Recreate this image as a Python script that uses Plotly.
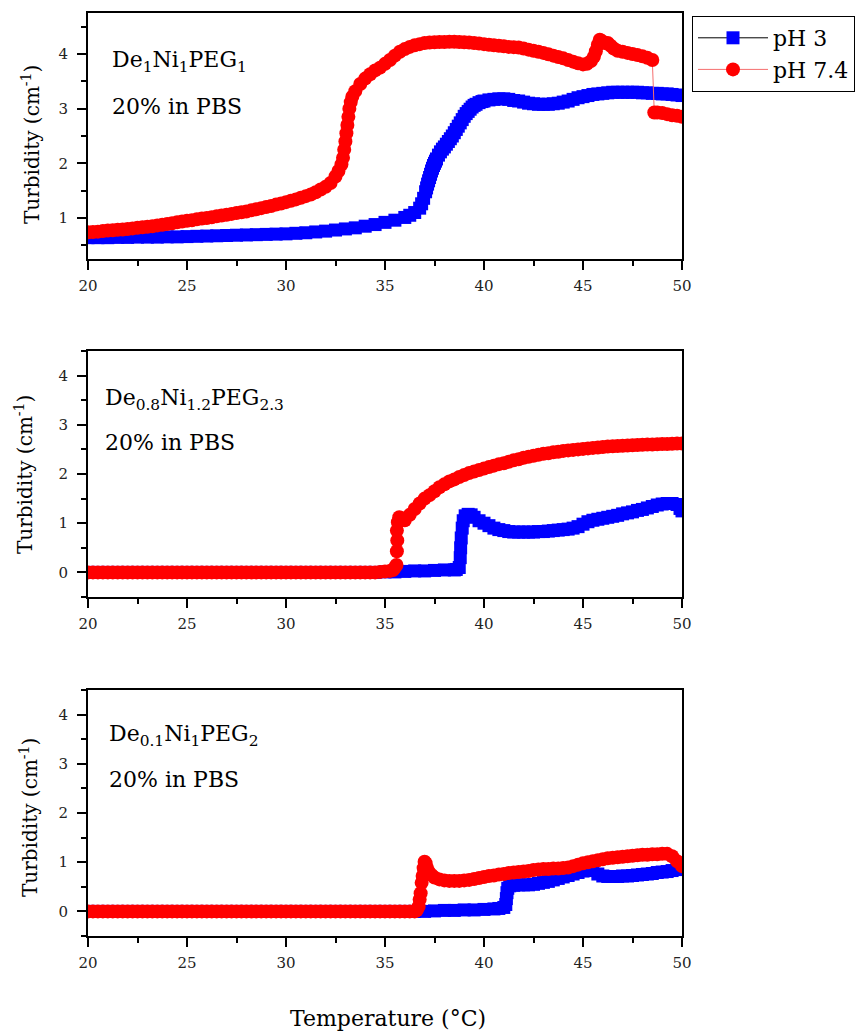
import plotly.graph_objects as go

# ---------------- data ----------------
# Panel 1: De1Ni1PEG1
P1_T_PH3 = [
    20.0, 20.5, 21.0, 21.5, 22.0, 22.5, 23.0, 23.5, 24.0, 24.5,
    25.0, 25.5, 26.0, 26.5, 27.0, 27.5, 28.0, 28.5, 29.0, 29.5,
    30.0, 30.5, 31.0, 31.5, 32.0, 32.5, 33.0, 33.5, 34.0, 34.5,
    35.0, 35.5, 36.0, 36.25, 36.5, 36.75, 36.85, 36.95, 37.05, 37.1,
    37.15, 37.2, 37.25, 37.3, 37.35, 37.4, 37.45, 37.5, 37.55, 37.6,
    37.7, 37.8, 37.9, 38.0, 38.1, 38.2, 38.3, 38.4, 38.5, 38.6,
    38.7, 38.8, 38.9, 39.0, 39.1, 39.2, 39.3, 39.4, 39.5, 39.6,
    39.75, 39.9, 40.0, 40.25, 40.5, 40.75, 41.0, 41.25, 41.5, 41.75,
    42.0, 42.25, 42.5, 42.75, 43.0, 43.25, 43.5, 43.75, 44.0, 44.25,
    44.5, 44.75, 45.0, 45.25, 45.5, 45.75, 46.0, 46.25, 46.5, 46.75,
    47.0, 47.25, 47.5, 47.75, 48.0, 48.25, 48.5, 48.75, 49.0, 49.25,
    49.5, 49.75, 50.0]
P1_Y_PH3 = [
    0.64, 0.64, 0.64, 0.645, 0.645, 0.65, 0.65, 0.65, 0.655, 0.655,
    0.66, 0.665, 0.67, 0.675, 0.68, 0.685, 0.69, 0.695, 0.70, 0.705,
    0.71, 0.72, 0.73, 0.745, 0.76, 0.78, 0.80, 0.82, 0.85, 0.88,
    0.92, 0.96, 1.01, 1.05, 1.1, 1.18, 1.26, 1.36, 1.48, 1.55,
    1.62, 1.68, 1.74, 1.8, 1.86, 1.91, 1.96, 2.0, 2.04, 2.08,
    2.15, 2.21, 2.26, 2.3, 2.35, 2.4, 2.45, 2.5, 2.56, 2.62,
    2.68, 2.74, 2.8, 2.86, 2.91, 2.95, 2.99, 3.03, 3.06, 3.08,
    3.11, 3.13, 3.14, 3.16, 3.17, 3.18, 3.18, 3.17, 3.15, 3.14,
    3.12, 3.1, 3.09, 3.08, 3.08, 3.08, 3.09, 3.1, 3.12, 3.14,
    3.17, 3.2, 3.22, 3.24, 3.26, 3.27, 3.28, 3.29, 3.3, 3.3,
    3.3, 3.3, 3.3, 3.3, 3.29, 3.29, 3.28, 3.28, 3.27, 3.27,
    3.26, 3.25, 3.24]

P1_T_PH74 = [
    20.0, 20.25, 20.5, 20.75, 21.0, 21.25, 21.5, 21.75, 22.0, 22.25,
    22.5, 22.75, 23.0, 23.25, 23.5, 23.75, 24.0, 24.25, 24.5, 24.75,
    25.0, 25.25, 25.5, 25.75, 26.0, 26.25, 26.5, 26.75, 27.0, 27.25,
    27.5, 27.75, 28.0, 28.25, 28.5, 28.75, 29.0, 29.25, 29.5, 29.75,
    30.0, 30.25, 30.5, 30.75, 31.0, 31.25, 31.5, 31.75, 32.0, 32.25,
    32.5, 32.65, 32.8, 32.88, 32.94, 33.0, 33.05, 33.1, 33.15, 33.2,
    33.27, 33.35, 33.5, 33.75, 34.0, 34.25, 34.5, 34.75, 35.0, 35.25,
    35.5, 35.75, 36.0, 36.25, 36.5, 36.75, 37.0, 37.25, 37.5, 37.75,
    38.0, 38.25, 38.5, 38.75, 39.0, 39.25, 39.5, 39.75, 40.0, 40.25,
    40.5, 40.75, 41.0, 41.25, 41.5, 41.75, 42.0, 42.25, 42.5, 42.75,
    43.0, 43.25, 43.5, 43.75, 44.0, 44.25, 44.5, 44.75, 45.0, 45.2,
    45.4, 45.55, 45.65, 45.75, 45.85, 45.95, 46.1, 46.25, 46.4, 46.55,
    46.75, 47.0, 47.25, 47.5, 47.75, 48.0, 48.25, 48.5, 48.6, 48.75,
    49.0, 49.25, 49.5, 49.75, 50.0]
P1_Y_PH74 = [
    0.74, 0.745, 0.75, 0.76, 0.77, 0.775, 0.785, 0.79, 0.80, 0.81,
    0.82, 0.83, 0.84, 0.85, 0.865, 0.875, 0.89, 0.905, 0.92, 0.935,
    0.95, 0.96, 0.975, 0.99, 1.0, 1.015, 1.03, 1.045, 1.06, 1.075,
    1.09, 1.105, 1.12, 1.14, 1.16, 1.18, 1.2, 1.22, 1.245, 1.265,
    1.29, 1.315, 1.34, 1.37, 1.40, 1.43, 1.47, 1.52, 1.57, 1.64,
    1.76, 1.86, 1.98, 2.1, 2.25, 2.4, 2.55, 2.7, 2.85, 3.0,
    3.12, 3.22, 3.32, 3.45, 3.55, 3.63, 3.7, 3.75, 3.82, 3.89,
    3.97, 4.04, 4.09, 4.13, 4.16, 4.18, 4.2, 4.21, 4.215, 4.22,
    4.22, 4.225, 4.225, 4.22, 4.215, 4.21, 4.2, 4.19, 4.18, 4.17,
    4.16, 4.15, 4.14, 4.13, 4.125, 4.12, 4.1, 4.08, 4.06, 4.04,
    4.02, 3.995, 3.97, 3.945, 3.92, 3.89, 3.86, 3.83, 3.81, 3.82,
    3.87, 3.95, 4.05, 4.17, 4.26, 4.24, 4.2, 4.2, 4.15, 4.1,
    4.06, 4.04, 4.02, 4.0, 3.98, 3.96, 3.93, 3.89, 2.93, 2.93,
    2.92, 2.9, 2.88, 2.87, 2.85]

# Panel 2: De0.8Ni1.2PEG2.3
P2_T_PH3 = [
    20.0, 20.5, 21.0, 21.5, 22.0, 22.5, 23.0, 23.5, 24.0, 24.5,
    25.0, 25.5, 26.0, 26.5, 27.0, 27.5, 28.0, 28.5, 29.0, 29.5,
    30.0, 30.5, 31.0, 31.5, 32.0, 32.5, 33.0, 33.5, 34.0, 34.5,
    35.0, 35.5, 36.0, 36.5, 37.0, 37.5, 38.0, 38.5, 38.6, 38.75,
    38.8, 38.82, 38.85, 38.9, 38.95, 39.05, 39.2, 39.35, 39.5, 39.75,
    40.0, 40.25, 40.5, 40.75, 41.0, 41.25, 41.5, 41.75, 42.0, 42.25,
    42.5, 42.75, 43.0, 43.25, 43.5, 43.75, 44.0, 44.25, 44.5, 44.75,
    45.0, 45.25, 45.5, 45.75, 46.0, 46.25, 46.5, 46.75, 47.0, 47.25,
    47.5, 47.75, 48.0, 48.25, 48.5, 48.75, 49.0, 49.25, 49.5, 49.75,
    49.9, 50.0]
P2_Y_PH3 = [
    0.0, 0.0, 0.0, 0.0, 0.0, 0.0, 0.0, 0.0, 0.0, 0.0,
    0.0, 0.0, 0.0, 0.0, 0.0, 0.0, 0.0, 0.0, 0.0, 0.0,
    0.0, 0.0, 0.0, 0.0, 0.0, 0.0, 0.0, 0.0, 0.0, 0.0,
    0.01, 0.01, 0.02, 0.03, 0.03, 0.04, 0.05, 0.05, 0.06, 0.1,
    0.3, 0.5, 0.7, 0.9, 1.05, 1.15, 1.18, 1.17, 1.12, 1.05,
    1.0, 0.95, 0.9, 0.87, 0.85, 0.83, 0.82, 0.82, 0.82, 0.82,
    0.82, 0.83, 0.83, 0.84, 0.85, 0.86, 0.87, 0.88, 0.9, 0.93,
    0.98, 1.03, 1.06, 1.08, 1.1, 1.12, 1.14, 1.16, 1.19, 1.21,
    1.23, 1.26, 1.28, 1.31, 1.34, 1.37, 1.39, 1.4, 1.4, 1.38,
    1.3, 1.25]

P2_T_PH74 = [
    20.0, 20.25, 20.5, 20.75, 21.0, 21.25, 21.5, 21.75, 22.0, 22.25,
    22.5, 22.75, 23.0, 23.25, 23.5, 23.75, 24.0, 24.25, 24.5, 24.75,
    25.0, 25.25, 25.5, 25.75, 26.0, 26.25, 26.5, 26.75, 27.0, 27.25,
    27.5, 27.75, 28.0, 28.25, 28.5, 28.75, 29.0, 29.25, 29.5, 29.75,
    30.0, 30.25, 30.5, 30.75, 31.0, 31.25, 31.5, 31.75, 32.0, 32.25,
    32.5, 32.75, 33.0, 33.25, 33.5, 33.75, 34.0, 34.25, 34.5, 34.75,
    35.0, 35.25, 35.4, 35.5, 35.58, 35.6, 35.62, 35.6, 35.65, 35.72,
    35.85, 36.0, 36.25, 36.5, 36.75, 37.0, 37.25, 37.5, 37.75, 38.0,
    38.25, 38.5, 38.75, 39.0, 39.25, 39.5, 39.75, 40.0, 40.25, 40.5,
    40.75, 41.0, 41.25, 41.5, 41.75, 42.0, 42.25, 42.5, 42.75, 43.0,
    43.25, 43.5, 43.75, 44.0, 44.25, 44.5, 44.75, 45.0, 45.25, 45.5,
    45.75, 46.0, 46.25, 46.5, 46.75, 47.0, 47.25, 47.5, 47.75, 48.0,
    48.25, 48.5, 48.75, 49.0, 49.25, 49.5, 49.75, 50.0]
P2_Y_PH74 = [
    0.0, 0.0, 0.0, 0.0, 0.0, 0.0, 0.0, 0.0, 0.0, 0.0,
    0.0, 0.0, 0.0, 0.0, 0.0, 0.0, 0.0, 0.0, 0.0, 0.0,
    0.0, 0.0, 0.0, 0.0, 0.0, 0.0, 0.0, 0.0, 0.0, 0.0,
    0.0, 0.0, 0.0, 0.0, 0.0, 0.0, 0.0, 0.0, 0.0, 0.0,
    0.0, 0.0, 0.0, 0.0, 0.0, 0.0, 0.0, 0.0, 0.0, 0.0,
    0.0, 0.0, 0.0, 0.0, 0.0, 0.0, 0.0, 0.0, 0.0, 0.01,
    0.02, 0.03, 0.05, 0.1, 0.15, 0.43, 0.65, 0.85, 1.02, 1.12,
    1.1, 1.06, 1.17, 1.29, 1.4, 1.5, 1.57, 1.65, 1.73, 1.79,
    1.85, 1.89, 1.94, 1.98, 2.02, 2.05, 2.08, 2.11, 2.14, 2.17,
    2.2, 2.22, 2.25, 2.28, 2.3, 2.33, 2.35, 2.37, 2.39, 2.41,
    2.42, 2.44, 2.45, 2.47, 2.48, 2.49, 2.5, 2.51, 2.52, 2.53,
    2.54, 2.55, 2.56, 2.565, 2.57, 2.575, 2.58, 2.585, 2.59, 2.595,
    2.6, 2.6, 2.605, 2.61, 2.61, 2.615, 2.62, 2.62]

# Panel 3: De0.1Ni1PEG2
P3_T_PH3 = [
    20.0, 20.5, 21.0, 21.5, 22.0, 22.5, 23.0, 23.5, 24.0, 24.5,
    25.0, 25.5, 26.0, 26.5, 27.0, 27.5, 28.0, 28.5, 29.0, 29.5,
    30.0, 30.5, 31.0, 31.5, 32.0, 32.5, 33.0, 33.5, 34.0, 34.5,
    35.0, 35.5, 36.0, 36.5, 37.0, 37.5, 38.0, 38.5, 39.0, 39.5,
    40.0, 40.5, 40.75, 41.0, 41.1, 41.13, 41.16, 41.2, 41.3, 41.5,
    41.75, 42.0, 42.25, 42.5, 42.75, 43.0, 43.25, 43.5, 43.75, 44.0,
    44.25, 44.5, 44.75, 45.0, 45.25, 45.5, 45.75, 46.0, 46.25, 46.5,
    46.75, 47.0, 47.25, 47.5, 47.75, 48.0, 48.25, 48.5, 48.75, 49.0,
    49.25, 49.5, 49.75, 50.0]
P3_Y_PH3 = [
    0.0, 0.0, 0.0, 0.0, 0.0, 0.0, 0.0, 0.0, 0.0, 0.0,
    0.0, 0.0, 0.0, 0.0, 0.0, 0.0, 0.0, 0.0, 0.0, 0.0,
    0.0, 0.0, 0.0, 0.0, 0.0, 0.0, 0.0, 0.0, 0.0, 0.0,
    0.0, 0.0, 0.0, 0.0, 0.0, 0.01, 0.02, 0.02, 0.03, 0.03,
    0.04, 0.05, 0.06, 0.08, 0.14, 0.26, 0.38, 0.47, 0.52, 0.53,
    0.54, 0.54, 0.54, 0.55, 0.57, 0.59, 0.61, 0.64, 0.67, 0.7,
    0.73, 0.76, 0.79, 0.82, 0.84, 0.83, 0.76, 0.72, 0.71, 0.71,
    0.71, 0.72, 0.72, 0.73, 0.74, 0.75, 0.76, 0.77, 0.79, 0.8,
    0.81, 0.83, 0.85, 0.86]

P3_T_PH74 = [
    20.0, 20.25, 20.5, 20.75, 21.0, 21.25, 21.5, 21.75, 22.0, 22.25,
    22.5, 22.75, 23.0, 23.25, 23.5, 23.75, 24.0, 24.25, 24.5, 24.75,
    25.0, 25.25, 25.5, 25.75, 26.0, 26.25, 26.5, 26.75, 27.0, 27.25,
    27.5, 27.75, 28.0, 28.25, 28.5, 28.75, 29.0, 29.25, 29.5, 29.75,
    30.0, 30.25, 30.5, 30.75, 31.0, 31.25, 31.5, 31.75, 32.0, 32.25,
    32.5, 32.75, 33.0, 33.25, 33.5, 33.75, 34.0, 34.25, 34.5, 34.75,
    35.0, 35.25, 35.5, 35.75, 36.0, 36.25, 36.5, 36.6, 36.7, 36.75,
    36.8, 36.85, 36.9, 36.95, 37.0, 37.05, 37.1, 37.2, 37.35, 37.5,
    37.75, 38.0, 38.25, 38.5, 38.75, 39.0, 39.25, 39.5, 39.75, 40.0,
    40.25, 40.5, 40.75, 41.0, 41.25, 41.5, 41.75, 42.0, 42.25, 42.5,
    42.75, 43.0, 43.25, 43.5, 43.75, 44.0, 44.25, 44.5, 44.75, 45.0,
    45.25, 45.5, 45.75, 46.0, 46.25, 46.5, 46.75, 47.0, 47.25, 47.5,
    47.75, 48.0, 48.25, 48.5, 48.75, 49.0, 49.25, 49.5, 49.75, 50.0]
P3_Y_PH74 = [
    0.0, 0.0, 0.0, 0.0, 0.0, 0.0, 0.0, 0.0, 0.0, 0.0,
    0.0, 0.0, 0.0, 0.0, 0.0, 0.0, 0.0, 0.0, 0.0, 0.0,
    0.0, 0.0, 0.0, 0.0, 0.0, 0.0, 0.0, 0.0, 0.0, 0.0,
    0.0, 0.0, 0.0, 0.0, 0.0, 0.0, 0.0, 0.0, 0.0, 0.0,
    0.0, 0.0, 0.0, 0.0, 0.0, 0.0, 0.0, 0.0, 0.0, 0.0,
    0.0, 0.0, 0.0, 0.0, 0.0, 0.0, 0.0, 0.0, 0.0, 0.0,
    0.0, 0.0, 0.0, 0.0, 0.0, 0.0, 0.0, 0.02, 0.1, 0.24,
    0.37, 0.58, 0.72, 0.88, 1.01, 0.98, 0.9, 0.81, 0.74, 0.69,
    0.65, 0.63, 0.62, 0.62, 0.62, 0.63, 0.64, 0.66, 0.68, 0.7,
    0.72, 0.73, 0.75, 0.76, 0.78, 0.79, 0.8, 0.81, 0.82, 0.84,
    0.85, 0.86, 0.86, 0.87, 0.87, 0.88, 0.89, 0.92, 0.95, 0.98,
    1.0, 1.02, 1.04, 1.06, 1.08, 1.09, 1.1, 1.11, 1.12, 1.13,
    1.14, 1.15, 1.15, 1.16, 1.16, 1.17, 1.17, 1.12, 1.02, 0.92]

SAMPLE_LABELS = ["De<sub>1</sub>Ni<sub>1</sub>PEG<sub>1</sub>",
                 "De<sub>0.8</sub>Ni<sub>1.2</sub>PEG<sub>2.3</sub>",
                 "De<sub>0.1</sub>Ni<sub>1</sub>PEG<sub>2</sub>"]
SOLVENT_LABEL = "20% in PBS"
SERIES_NAMES = ["pH 3", "pH 7.4"]
Y_TITLE = "Turbidity (cm<sup>-1</sup>)"
X_TITLE = "Temperature (°C)"

PANELS = [
    (P1_T_PH3, P1_Y_PH3, P1_T_PH74, P1_Y_PH74),
    (P2_T_PH3, P2_Y_PH3, P2_T_PH74, P2_Y_PH74),
    (P3_T_PH3, P3_Y_PH3, P3_T_PH74, P3_Y_PH74),
]

# ---------------- layout geometry ----------------
W, H = 859, 1032
FONT = "DejaVu Serif"


def fx(px):
    return px / W


def fy(py):
    return 1 - py / H


X_DOMAIN = [fx(88), fx(682)]
Y_DOMAINS = [[fy(259), fy(13)], [fy(597), fy(351)], [fy(936), fy(690)]]
Y_RANGES = [[0.25, 4.75], [-0.5, 4.5], [-0.5, 4.5]]
LABEL_POS = [(110, 62, 107), (103, 399, 442), (107, 735, 779)]
YTITLE_POS = [(31, 145), (24, 475), (29, 818)]

fig = go.Figure()

for i, (t3, y3, t74, y74) in enumerate(PANELS):
    sfx = "" if i == 0 else str(i + 1)
    fig.add_trace(go.Scatter(
        x=t3, y=y3, mode="lines+markers", name=SERIES_NAMES[0],
        xaxis="x" + sfx, yaxis="y" + sfx, showlegend=(i == 0),
        line=dict(color="black", width=1),
        marker=dict(symbol="square", size=13, color="rgb(0,0,255)", line=dict(width=0)),
    ))
    fig.add_trace(go.Scatter(
        x=t74, y=y74, mode="lines+markers", name=SERIES_NAMES[1],
        xaxis="x" + sfx, yaxis="y" + sfx, showlegend=(i == 0),
        line=dict(color="rgb(245,110,110)", width=1),
        marker=dict(symbol="circle", size=14, color="rgb(255,0,0)", line=dict(width=0)),
    ))

TICKFONT = dict(family=FONT, size=15, color="#222")
layout = {}
for i in range(3):
    sfx = "" if i == 0 else str(i + 1)
    layout["xaxis" + sfx] = dict(
        domain=X_DOMAIN, range=[20, 50], anchor="y" + sfx,
        tickmode="linear", tick0=20, dtick=5,
        ticks="outside", ticklen=9, tickwidth=1.5, tickcolor="black",
        minor=dict(ticks="outside", ticklen=5, tickwidth=1.5, tickcolor="black", dtick=2.5, tick0=20),
        showline=True, linewidth=2, linecolor="black", mirror=True,
        showgrid=False, zeroline=False, tickfont=TICKFONT, ticklabelstandoff=3,
    )
    layout["yaxis" + sfx] = dict(
        domain=Y_DOMAINS[i], range=Y_RANGES[i], anchor="x" + sfx,
        tickmode="linear", tick0=0, dtick=1,
        ticks="outside", ticklen=9, tickwidth=1.5, tickcolor="black",
        minor=dict(ticks="outside", ticklen=5, tickwidth=1.5, tickcolor="black", dtick=0.5, tick0=0),
        showline=True, linewidth=2, linecolor="black", mirror=True,
        showgrid=False, zeroline=False, tickfont=TICKFONT, ticklabelstandoff=6,
    )
    # inward ticks on top and right edges
    layout["xaxis" + str(i + 4)] = dict(
        overlaying="x" + sfx, anchor="y" + sfx, side="top", range=[20, 50],
        tickmode="linear", tick0=20, dtick=5,
        ticks="inside", ticklen=9, tickwidth=1.5, tickcolor="black",
        minor=dict(ticks="inside", ticklen=5, tickwidth=1.5, tickcolor="black", dtick=2.5, tick0=20),
        showticklabels=False, showline=False, showgrid=False, zeroline=False,
    )
    layout["yaxis" + str(i + 4)] = dict(
        overlaying="y" + sfx, anchor="x" + sfx, side="right", range=Y_RANGES[i],
        tickmode="linear", tick0=0, dtick=1,
        ticks="inside", ticklen=9, tickwidth=1.5, tickcolor="black",
        minor=dict(ticks="inside", ticklen=5, tickwidth=1.5, tickcolor="black", dtick=0.5, tick0=0),
        showticklabels=False, showline=False, showgrid=False, zeroline=False,
    )

annotations = []
for i in range(3):
    lx, ly1, ly2 = LABEL_POS[i]
    annotations.append(dict(text=SAMPLE_LABELS[i], x=fx(lx), y=fy(ly1), xref="paper", yref="paper",
                            xanchor="left", yanchor="middle", showarrow=False,
                            font=dict(family=FONT, size=22, color="black")))
    annotations.append(dict(text=SOLVENT_LABEL, x=fx(lx), y=fy(ly2), xref="paper", yref="paper",
                            xanchor="left", yanchor="middle", showarrow=False,
                            font=dict(family=FONT, size=22, color="black")))
    tx, ty = YTITLE_POS[i]
    annotations.append(dict(text=Y_TITLE, x=fx(tx), y=fy(ty), xref="paper", yref="paper",
                            xanchor="center", yanchor="middle", textangle=-90, showarrow=False,
                            font=dict(family=FONT, size=20, color="black")))
annotations.append(dict(text=X_TITLE, x=fx(388), y=fy(1018), xref="paper", yref="paper",
                        xanchor="center", yanchor="middle", showarrow=False,
                        font=dict(family=FONT, size=22, color="black")))

fig.update_layout(
    **layout,
    width=W, height=H,
    margin=dict(l=0, r=0, t=0, b=0, autoexpand=False),
    paper_bgcolor="white", plot_bgcolor="white",
    showlegend=True,
    legend=dict(x=fx(692), y=fy(16), xanchor="left", yanchor="top",
                bordercolor="black", borderwidth=1, bgcolor="white",
                font=dict(family=FONT, size=22, color="black"),
                itemwidth=70, tracegroupgap=0),
    annotations=annotations,
)

fig.write_html("out.html")
